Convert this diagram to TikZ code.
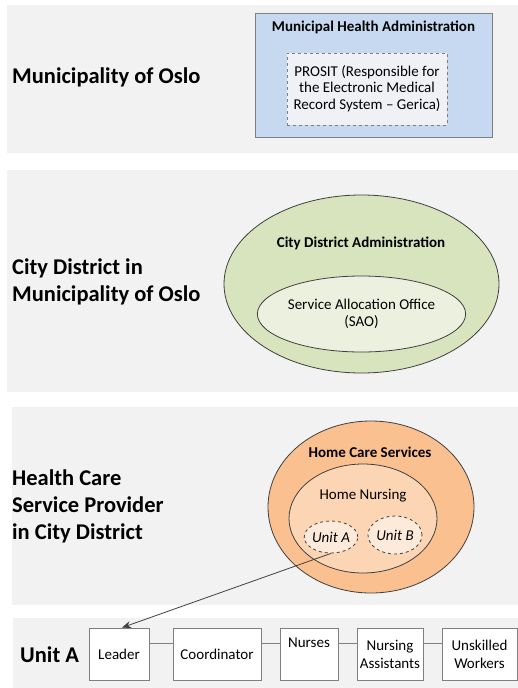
\documentclass[tikz,border=0pt]{standalone}
\usepackage{fontspec}
\setmainfont{Carlito}
\usetikzlibrary{shapes.geometric,arrows.meta}
\definecolor{bandgray}{HTML}{F2F2F2}
\definecolor{blueF}{HTML}{C6D9F1}
\definecolor{dashF}{HTML}{EFF1F4}
\definecolor{greenA}{HTML}{D7E4BD}
\definecolor{greenB}{HTML}{EBF1DE}
\definecolor{orA}{HTML}{FAC090}
\definecolor{orB}{HTML}{FCD5B5}
\definecolor{orC}{HTML}{FDEADA}
\definecolor{edgegray}{HTML}{7F7F7F}
\definecolor{darkedge}{HTML}{404040}
\tikzset{
  band/.style={fill=bandgray, draw=none},
  biglabel/.style={font=\fontsize{22.5}{27}\selectfont\bfseries, align=left, anchor=west, inner sep=0pt},
  small/.style={font=\fontsize{15}{17.5}\selectfont, inner sep=0pt, align=center},
  smallbold/.style={font=\fontsize{15}{17.5}\selectfont\bfseries, inner sep=0pt, align=center},
  ell/.style={ellipse, draw=darkedge, line width=0.8pt, inner sep=0pt},
  unitell/.style={ellipse, draw=darkedge, dashed, line width=0.8pt, fill=orC, inner sep=0pt,
     font=\fontsize{15}{17.5}\selectfont\itshape},
  rolebox/.style={draw=edgegray, line width=0.8pt, fill=white, minimum height=52pt, inner sep=0pt,
     font=\fontsize{15}{18}\selectfont, align=center},
  link/.style={draw=edgegray, line width=0.8pt}
}
\begin{document}
\begin{tikzpicture}[x=1pt,y=-1pt]
\useasboundingbox (0,0) rectangle (518,688);
% bands
\fill[band] (7,5) rectangle (518,153);
\fill[band] (7,170) rectangle (518,392);
\fill[band] (12,407) rectangle (518,605);
\fill[band] (13,618) rectangle (518,688);

% band 1
\node[biglabel] (lab1) at (12,77) {Municipality of Oslo};
\node[draw=edgegray, line width=0.8pt, fill=blueF, minimum width=237pt, minimum height=124pt] (mha) at (373.5,75) {};
\node[smallbold] (mhat) at (373.5,27) {Municipal Health Administration};
\node[draw=edgegray, dashed, line width=0.8pt, fill=dashF, minimum width=160pt, minimum height=72pt, small] (prosit) at (367,89) {\raisebox{5pt}{\begin{tabular}{@{}c@{}}PROSIT (Responsible for\\[-1pt] the Electronic Medical\\[-1pt] Record System -- Gerica)\end{tabular}}};

% band 2
\node[biglabel] (lab2) at (12,281.5) {City District in\\Municipality of Oslo};
\node[ell, fill=greenA, minimum width=275pt, minimum height=178pt] (cda) at (361.5,284) {};
\node[smallbold] (cdat) at (361,243) {City District Administration};
\node[ell, fill=greenB, minimum width=177pt, minimum height=76pt, small] (sao) at (361.5,314) {Service Allocation Office\\(SAO)};

% band 3
\node[biglabel] (lab3) at (12,506) {Health Care\\Service Provider\\in City District};
\node[ell, fill=orA, minimum width=206pt, minimum height=172pt] (hcs) at (371,507) {};
\node[smallbold] (hcst) at (370,452) {Home Care Services};
\node[ell, fill=orB, minimum width=148pt, minimum height=109pt] (hn) at (363,518.5) {};
\node[small] (hnt) at (363,496) {Home Nursing};
\node[unitell, minimum width=52pt, minimum height=32pt] (ua) at (331,537) {Unit A};
\node[unitell, minimum width=54pt, minimum height=38pt] (ub) at (395,535) {Unit B};

% band 4
\node[biglabel] (lab4) at (20,655) {Unit A};
\node[rolebox, minimum width=60pt] (leader) at (119,654) {Leader};
\node[rolebox, minimum width=88pt] (coord) at (217,654) {Coordinator};
\node[rolebox, minimum width=58pt] (nurses) at (309,654) {Nurses\\\strut};
\node[rolebox, minimum width=66pt] (na) at (390,654) {Nursing\\Assistants};
\node[rolebox, minimum width=75pt] (uw) at (479.5,654) {Unskilled\\Workers};

\draw[link] ([yshift=11pt]leader.east) -- ([yshift=11pt]coord.west);
\draw[link] ([yshift=11pt]coord.east) -- ([yshift=11pt]nurses.west);
\draw[link] ([yshift=11pt]nurses.east) -- ([yshift=11pt]na.west);
\draw[link] ([yshift=11pt]na.east) -- ([yshift=11pt]uw.west);

\draw[line width=0.8pt, draw=darkedge, -{Stealth[length=9pt,width=7pt]}] (ua.south) -- ([xshift=3pt]leader.north);
\end{tikzpicture}
\end{document}
